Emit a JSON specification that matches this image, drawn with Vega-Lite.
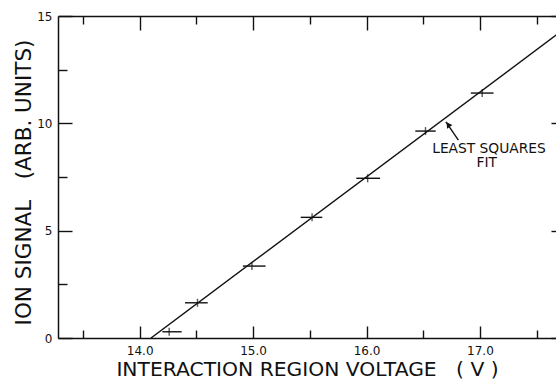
{
  "$schema": "https://vega.github.io/schema/vega-lite/v6.json",
  "autosize": "none",
  "padding": {"left": 58, "top": 16, "right": 0, "bottom": 43},
  "width": 507,
  "height": 322,
  "background": "white",
  "config": {
    "view": {"stroke": null},
    "font": "DejaVu Sans",
    "axis": {
      "domainColor": "#111",
      "domainWidth": 1.5,
      "tickColor": "#111",
      "tickWidth": 1.4,
      "grid": false,
      "labelFont": "DejaVu Sans",
      "labelFontSize": 12,
      "labelColor": "#111",
      "titleFont": "DejaVu Sans",
      "titleFontWeight": "normal",
      "titleColor": "#111"
    }
  },
  "datasets": {
    "fit": [
      {"voltage": 14.10, "signal": 0},
      {"voltage": 17.75, "signal": 14.42}
    ],
    "points": [
      {"voltage": 14.26, "lo": 14.20, "hi": 14.37, "signal": 0.29},
      {"voltage": 14.51, "lo": 14.40, "hi": 14.60, "signal": 1.64},
      {"voltage": 14.99, "lo": 14.91, "hi": 15.11, "signal": 3.35},
      {"voltage": 15.52, "lo": 15.42, "hi": 15.61, "signal": 5.62},
      {"voltage": 16.01, "lo": 15.91, "hi": 16.12, "signal": 7.44},
      {"voltage": 16.52, "lo": 16.43, "hi": 16.61, "signal": 9.64},
      {"voltage": 17.02, "lo": 16.92, "hi": 17.12, "signal": 11.41}
    ],
    "note": [
      {"voltage": 17.08, "signal": 8.63, "label": "LEAST SQUARES"},
      {"voltage": 17.06, "signal": 7.96, "label": "FIT"}
    ],
    "arrow": [
      {"v1": 16.81, "s1": 9.22, "v2": 16.70, "s2": 10.07, "hv": 16.72, "hs": 9.94}
    ]
  },
  "resolve": {"axis": {"x": "independent", "y": "independent"}},
  "layer": [
    {
      "data": {"name": "fit"},
      "mark": {"type": "line", "color": "#111", "strokeWidth": 1.4, "clip": true},
      "encoding": {
        "x": {
          "field": "voltage", "type": "quantitative",
          "scale": {"domain": [13.28, 17.75], "nice": false, "zero": false},
          "axis": {
            "orient": "bottom",
            "title": "INTERACTION REGION VOLTAGE\u00a0\u00a0\u00a0( V )",
            "titleFontSize": 20.3,
            "titleX": 249,
            "titleY": 37.5,
            "titleBaseline": "alphabetic",
            "titleAlign": "center",
            "values": [13.5, 14, 14.5, 15, 15.5, 16, 16.5, 17, 17.5],
            "labelExpr": "datum.value % 1 === 0 ? format(datum.value, '.1f') : ''",
            "tickSize": {"condition": {"test": "datum.value % 1 === 0", "value": -12}, "value": -8},
            "labelPadding": 19
          }
        },
        "y": {
          "field": "signal", "type": "quantitative",
          "scale": {"domain": [0, 15], "nice": false, "zero": false},
          "axis": {
            "orient": "left",
            "title": "ION SIGNAL\u00a0\u00a0\u00a0(ARB. UNITS)",
            "titleFontSize": 21.5,
            "titleX": -28,
            "titleY": 166,
            "titleAngle": 270,
            "titleBaseline": "alphabetic",
            "titleAlign": "center",
            "values": [0, 2.5, 5, 7.5, 10, 12.5, 15],
            "labelExpr": "datum.value % 5 === 0 ? format(datum.value, 'd') : ''",
            "tickSize": {"condition": {"test": "datum.value % 5 === 0", "value": -14}, "value": -9},
            "labelPadding": 20
          }
        }
      }
    },
    {
      "data": {"name": "points"},
      "mark": {"type": "rule", "color": "#111", "strokeWidth": 1.4},
      "encoding": {
        "x": {
          "field": "lo", "type": "quantitative",
          "scale": {"domain": [13.28, 17.75], "nice": false, "zero": false},
          "axis": {
            "orient": "top",
            "title": null,
            "labels": false,
            "values": [13.5, 14, 14.5, 15, 15.5, 16, 16.5, 17, 17.5],
            "tickSize": {"condition": {"test": "datum.value % 1 === 0", "value": -14}, "value": -8}
          }
        },
        "x2": {"field": "hi"},
        "y": {
          "field": "signal", "type": "quantitative",
          "scale": {"domain": [0, 15], "nice": false, "zero": false},
          "axis": {
            "orient": "right",
            "title": null,
            "labels": false,
            "values": [0, 2.5, 5, 7.5, 10, 12.5, 15],
            "tickSize": {"condition": {"test": "datum.value % 5 === 0", "value": -14}, "value": -9}
          }
        }
      }
    },
    {
      "data": {"name": "points"},
      "mark": {"type": "tick", "orient": "vertical", "color": "#111", "size": 8, "thickness": 1.4},
      "encoding": {
        "x": {"field": "voltage", "type": "quantitative", "scale": {"domain": [13.28, 17.75], "nice": false, "zero": false}, "axis": null},
        "y": {"field": "signal", "type": "quantitative", "scale": {"domain": [0, 15], "nice": false, "zero": false}, "axis": null}
      }
    },
    {
      "data": {"name": "note"},
      "mark": {"type": "text", "color": "#111", "font": "DejaVu Sans", "fontSize": 13.8, "align": "center", "baseline": "alphabetic"},
      "encoding": {
        "x": {"field": "voltage", "type": "quantitative", "scale": {"domain": [13.28, 17.75], "nice": false, "zero": false}, "axis": null},
        "y": {"field": "signal", "type": "quantitative", "scale": {"domain": [0, 15], "nice": false, "zero": false}, "axis": null},
        "text": {"field": "label"}
      }
    },
    {
      "data": {"name": "arrow"},
      "mark": {"type": "rule", "color": "#111", "strokeWidth": 1.4},
      "encoding": {
        "x": {"field": "v1", "type": "quantitative", "scale": {"domain": [13.28, 17.75], "nice": false, "zero": false}, "axis": null},
        "y": {"field": "s1", "type": "quantitative", "scale": {"domain": [0, 15], "nice": false, "zero": false}, "axis": null},
        "x2": {"field": "v2"},
        "y2": {"field": "s2"}
      }
    },
    {
      "data": {"name": "arrow"},
      "mark": {"type": "point", "shape": "triangle-up", "filled": true, "color": "#111", "size": 40, "angle": 326, "opacity": 1},
      "encoding": {
        "x": {"field": "hv", "type": "quantitative", "scale": {"domain": [13.28, 17.75], "nice": false, "zero": false}, "axis": null},
        "y": {"field": "hs", "type": "quantitative", "scale": {"domain": [0, 15], "nice": false, "zero": false}, "axis": null}
      }
    }
  ]
}
